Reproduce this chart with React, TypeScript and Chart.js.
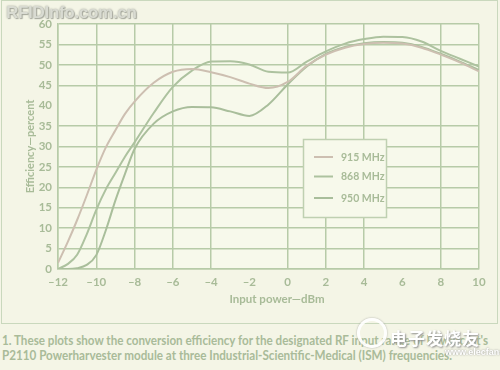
import React, { useEffect, useRef } from 'react';
import { Chart, registerables } from 'chart.js';

Chart.register(...registerables);

// ---- data ----
const inputPower = [-12, -11.5, -11, -10.5, -10, -9.5, -9, -8.5, -8, -7, -6, -5, -4, -3, -2, -1, 0, 1, 2, 3, 4, 5, 6, 7, 8, 9, 10];
const eff915 = [1.5, 6.5, 12, 18, 24.3, 29.8, 34, 38, 41, 45.6, 48.3, 49, 48.2, 47, 45.4, 44.3, 45.8, 49.8, 52.5, 54.2, 55.1, 55.4, 55.2, 54.2, 52.5, 50.6, 48.4];
const eff868 = [0, 1.2, 3.5, 8.5, 14.5, 19.5, 23.5, 27.5, 31, 38.2, 44.6, 48.6, 50.8, 50.9, 50.1, 48.3, 48.1, 50.8, 53.3, 55.2, 56.3, 56.9, 56.8, 55.7, 53.4, 51.5, 49.6];
const eff950 = [0, 0, 0.2, 1, 3.4, 9.5, 16.8, 23.3, 29.4, 35.6, 38.6, 39.7, 39.6, 38.6, 37.5, 40.3, 45.2, 49.6, 52.7, 54.4, 55.3, 55.6, 55.4, 54.4, 52.7, 50.8, 48.7];
const seriesLabels = ['915 MHz', '868 MHz', '950 MHz'];
const seriesColors = ['#cdbfb1', '#adc29f', '#a9be9b'];
const hiddenXGrid = [-2, 6];
const hiddenYGrid = [40];
const xTitle = 'Input power\u2014dBm';
const yTitle = 'Efficiency\u2014percent';
const captionLines = [
  "1. These plots show the conversion efficiency for the designated RF input range of Powercast's",
  'P2110 Powerharvester module at three Industrial-Scientific-Medical (ISM) frequencies.',
];

const FONT = 'Lato, "Open Sans", "Liberation Sans", sans-serif';
const TEXT = '#a8bb98';
const GRID = '#b7cba8';

const bgPlugin = {
  id: 'plotBg',
  beforeDraw(chart: any) {
    const { ctx, chartArea } = chart;
    ctx.save();
    ctx.fillStyle = '#f7f9eb';
    ctx.fillRect(chartArea.left, chartArea.top, chartArea.right - chartArea.left, chartArea.bottom - chartArea.top);
    ctx.restore();
  },
};

const decorPlugin = {
  id: 'decor',
  afterDraw(chart: any) {
    const { ctx } = chart;
    ctx.save();
    // x axis title
    ctx.fillStyle = TEXT;
    ctx.font = `bold 11.5px ${FONT}`;
    ctx.textAlign = 'center';
    ctx.textBaseline = 'middle';
    ctx.fillText(xTitle, 277, 299);
    // legend box
    ctx.fillStyle = '#f7f9eb';
    ctx.fillRect(303.5, 139.5, 83, 78);
    ctx.strokeStyle = '#bfd0b1';
    ctx.lineWidth = 1.5;
    ctx.strokeRect(303.5, 139.5, 83, 78);
    const rows = [157, 176.5, 198];
    chart.data.datasets.forEach((ds: any, i: number) => {
      ctx.strokeStyle = ds.borderColor;
      ctx.lineWidth = 2;
      ctx.beginPath();
      ctx.moveTo(314, rows[i]);
      ctx.lineTo(333, rows[i]);
      ctx.stroke();
      ctx.fillStyle = TEXT;
      ctx.font = `bold 10.5px ${FONT}`;
      ctx.textBaseline = 'middle';
      ctx.textAlign = 'left';
      ctx.fillText(ds.label, 341, rows[i] + 0.5);
    });
    ctx.restore();
  },
};

export default function App() {
  const ref = useRef<HTMLCanvasElement | null>(null);
  const lineRefs = useRef<(HTMLDivElement | null)[]>([]);

  useEffect(() => {
    const targets = [486, 450];
    lineRefs.current.forEach((el, i) => {
      if (!el) return;
      el.style.transform = 'none';
      const w = el.getBoundingClientRect().width;
      if (w > 0) el.style.transform = `scaleX(${targets[i] / w})`;
    });
  }, []);

  useEffect(() => {
    if (!ref.current) return;
    const mk = (vals: number[]) => inputPower.map((x, i) => ({ x, y: vals[i] }));
    const chart = new Chart(ref.current, {
      type: 'line',
      data: {
        datasets: [eff915, eff868, eff950].map((vals, i) => ({
          label: seriesLabels[i],
          data: mk(vals),
          borderColor: seriesColors[i],
          backgroundColor: seriesColors[i],
          borderWidth: 2,
          pointRadius: 0,
          cubicInterpolationMode: 'monotone' as const,
          fill: false,
        })),
      },
      options: {
        animation: false,
        responsive: false,
        maintainAspectRatio: false,
        layout: { padding: { left: 0, top: 24, right: 21, bottom: 17 } },
        plugins: { legend: { display: false }, tooltip: { enabled: false } },
        scales: {
          x: {
            type: 'linear',
            min: -12,
            max: 10,
            ticks: {
              stepSize: 2,
              color: TEXT,
              padding: 6,
              font: { family: FONT, size: 11.5, weight: 'bold' },
              callback: (v: any) => (Number(v) < 0 ? '\u2013' + Math.abs(Number(v)) : String(v)),
            },
            grid: {
              drawTicks: false,
              lineWidth: 1.5,
              color: (c: any) => (c.tick && hiddenXGrid.includes(c.tick.value) ? 'rgba(0,0,0,0)' : GRID),
            },
            border: { color: GRID, width: 1.5 },
            title: { display: false },
            afterFit: (s: any) => {
              s.height = 40;
            },
          },
          y: {
            min: 0,
            max: 60,
            ticks: {
              stepSize: 5,
              color: TEXT,
              padding: 6,
              font: { family: FONT, size: 11.5, weight: 'bold' },
            },
            grid: {
              drawTicks: false,
              lineWidth: 1.5,
              color: (c: any) => (c.tick && hiddenYGrid.includes(c.tick.value) ? 'rgba(0,0,0,0)' : GRID),
            },
            border: { color: GRID, width: 1.5 },
            title: {
              display: true,
              text: yTitle,
              color: TEXT,
              font: { family: FONT, size: 11, weight: 'bold' },
              padding: { top: 23.5, bottom: 0 },
            },
            afterFit: (s: any) => {
              s.width = 58;
            },
          },
        },
      },
      plugins: [bgPlugin, decorPlugin],
    } as any);
    return () => chart.destroy();
  }, []);

  return (
    <div style={{ position: 'fixed', left: 0, top: 0, width: 500, height: 370, background: '#f4f5e6', overflow: 'hidden' }}>
      <div style={{ position: 'absolute', left: 1, top: 0, width: 497, height: 324, boxSizing: 'border-box', border: '1px solid #c9d8bd' }} />
      <canvas ref={ref} width={500} height={326} style={{ position: 'absolute', left: 0, top: 0, width: 500, height: 326 }} />
      <div
        style={{
          position: 'absolute', left: 6, top: 3, font: 'bold 17px "Liberation Sans", sans-serif',
          color: '#d9dbd2', textShadow: '0 0 2px #9da095, 1px 1px 1px #a9aba0', letterSpacing: -0.3,
        }}
      >
        RFIDInfo.com.cn
      </div>
      <div style={{ position: 'absolute', left: 2, top: 333, font: `bold 13px ${FONT}`, color: '#a9bb99', lineHeight: '15px', whiteSpace: 'nowrap' }}>
        {captionLines.map((t, i) => (
          <div key={i} style={{ display: 'block', width: 'max-content' }}>
            <div ref={(el) => { lineRefs.current[i] = el; }} style={{ display: 'inline-block', transformOrigin: 'left center' }}>
              {t}
            </div>
          </div>
        ))}
      </div>
      <div
        style={{
          position: 'absolute', left: 357, top: 318, width: 24, height: 24, borderRadius: '50%',
          border: '3px solid #ffffff', boxShadow: '0 0 2px #9a9a9a', opacity: 0.9,
        }}
      />
      <div
        style={{
          position: 'absolute', left: 390, top: 325, font: 'bold 17px "Noto Sans CJK SC", sans-serif',
          color: '#ffffff', textShadow: '1px 1px 2px #8d8d8d', letterSpacing: 1,
        }}
      >
        电子发烧友
      </div>
      <div
        style={{
          position: 'absolute', left: 445, top: 347, font: 'bold 9px "Liberation Sans", sans-serif',
          color: '#ffffff', textShadow: '0 0 2px #8d8d8d',
        }}
      >
        www.elecfans.com
      </div>
    </div>
  );
}
